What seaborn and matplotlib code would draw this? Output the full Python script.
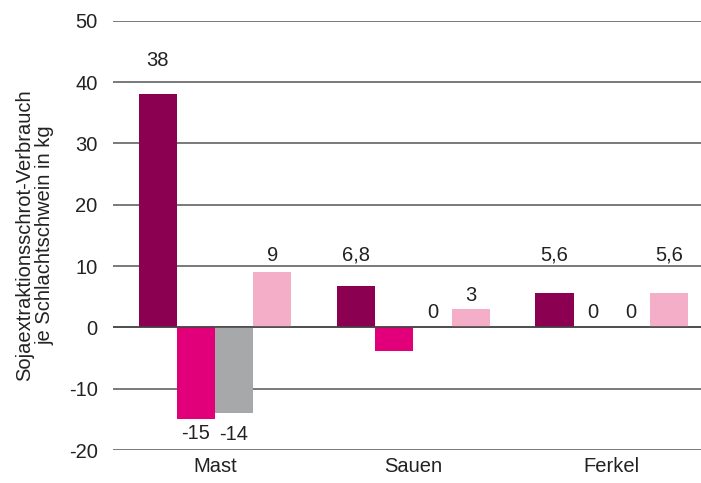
import pandas as pd
import seaborn as sns
import matplotlib.pyplot as plt

# Data
kategorien = ["Mast", "Sauen", "Ferkel"]
serien = ["Serie 1", "Serie 2", "Serie 3", "Serie 4"]
werte = {
    "Serie 1": [38, 6.8, 5.6],
    "Serie 2": [-15, -3.8, 0],
    "Serie 3": [-14, 0, 0],
    "Serie 4": [9, 3, 5.6],
}
beschriftung = {
    "Serie 1": ["38", "6,8", "5,6"],
    "Serie 2": ["-15", "", "0"],
    "Serie 3": ["-14", "0", "0"],
    "Serie 4": ["9", "3", "5,6"],
}
farben = ["#8C0052", "#E2007A", "#A7A8AA", "#F4AEC8"]

# label distance from bar end, in pixels (style only)
abstand = {
    "Serie 1": [34, 31, 38],
    "Serie 2": [-14, 0, 15],
    "Serie 3": [-21, 15, 15],
    "Serie 4": [17, 14, 38],
}

rows = []
for s in serien:
    for k, v in zip(kategorien, werte[s]):
        rows.append({"Kategorie": k, "Serie": s, "Wert": v})
df = pd.DataFrame(rows)

sns.set_style("white")
plt.rcParams["font.family"] = ["Liberation Sans", "DejaVu Sans"]
plt.rcParams["axes.unicode_minus"] = False

fs = 14.5
txtc = "#222222"

fig = plt.figure(figsize=(7.01, 4.83), dpi=100)
ax = fig.add_axes([0.161, 0.068, 0.839, 0.889])

sns.barplot(data=df, x="Kategorie", y="Wert", hue="Serie", order=kategorien,
            hue_order=serien, palette=farben, width=0.77, saturation=1,
            linewidth=0, legend=False, ax=ax, zorder=3)

# value labels
for cont, s in zip(ax.containers, serien):
    for bar, v, txt, d in zip(cont, werte[s], beschriftung[s], abstand[s]):
        if not txt:
            continue
        x = bar.get_x() + bar.get_width() / 2
        ax.annotate(txt, (x, v), xytext=(0, d * 0.72), textcoords="offset points",
                    ha="center", va="center", fontsize=fs, color=txtc)

ax.set_ylim(-20, 50)
ax.set_yticks(range(-20, 51, 10))
ax.set_xlim(-0.515, 2.45)
ax.yaxis.grid(True, color="#555555", linewidth=1.1, zorder=1)
ax.axhline(0, color="#444444", linewidth=1.1, zorder=4)
for sp in ax.spines.values():
    sp.set_visible(False)
ax.tick_params(axis="y", length=0, pad=11, labelsize=fs, labelcolor=txtc)
ax.tick_params(axis="x", length=0, pad=5, labelsize=fs, labelcolor=txtc)
ax.set_xlabel("")
ax.set_ylabel("Sojaextraktionsschrot-Verbrauch\nje Schlachtschwein in kg",
              fontsize=fs, color=txtc, labelpad=10, linespacing=1.1)

plt.savefig("out.png", dpi=100)
plt.close()
